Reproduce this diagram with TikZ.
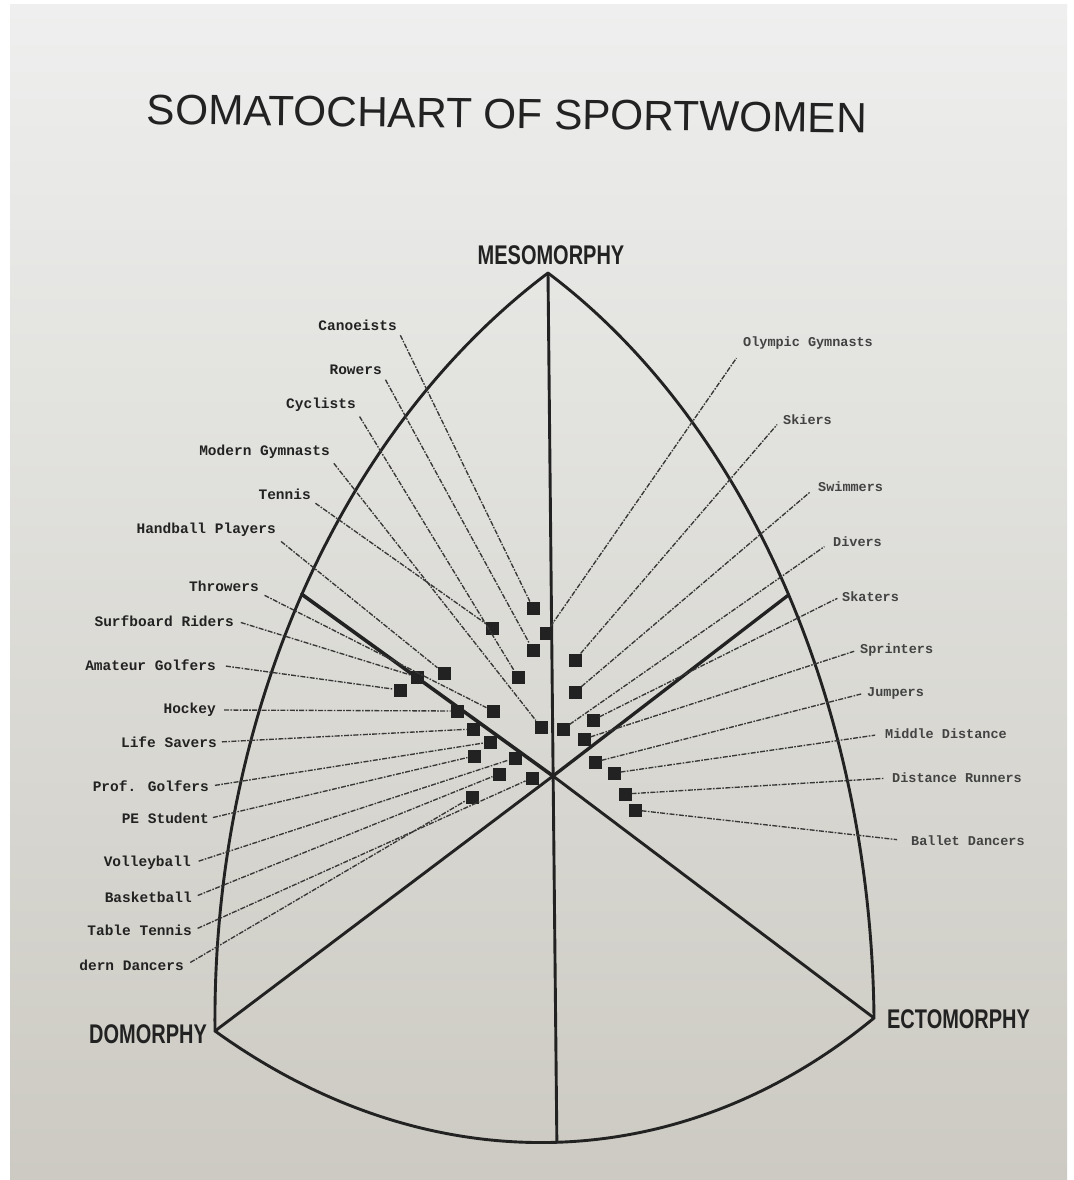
\documentclass[tikz,border=0pt]{standalone}
\usepackage{fontspec}
\usepackage{graphicx}
\setmainfont{Liberation Sans}
\newfontfamily\labfont{Liberation Mono}
\definecolor{paperTop}{RGB}{238,239,238}
\definecolor{paperBot}{RGB}{204,202,194}
\definecolor{ink}{RGB}{34,34,34}
\begin{document}
\begin{tikzpicture}[x=1pt,y=-1pt,
  axis/.style={line width=2.9pt, draw=ink, line cap=round, line join=round},
  conn/.style={line width=1.35pt, draw=ink!90, dash pattern=on 5pt off 1.4pt on 1.6pt off 1.4pt},
  sq/.style={fill=ink, minimum size=13pt, inner sep=0pt, outer sep=0pt},
  llab/.style={font=\labfont\bfseries\fontsize{14.5}{16}\selectfont, text=ink, inner sep=2pt, anchor=east},
  rlab/.style={font=\labfont\bfseries\fontsize{13.5}{15}\selectfont, text=ink!85, inner sep=2pt, anchor=west},
  pole/.style={font=\bfseries\fontsize{27}{30}\selectfont, text=ink, inner sep=0pt, xscale=0.74}
]
\useasboundingbox (0,0) rectangle (1073,1180);
% paper
\fill[white] (0,0) rectangle (1073,1180);
\shade[top color=paperTop, bottom color=paperBot] (10,5) rectangle (1067,1180);

% title and poles
\node[font=\fontsize{42.4}{48}\selectfont, text=ink, inner sep=0pt, rotate=-0.7] (title) at (507,114) {SOMATOCHART OF SPORTWOMEN};
\node[pole] (meso) at (551,255) {MESOMORPHY};
\node[pole, anchor=east] (endo) at (207,1034) {DOMORPHY};
\node[pole, anchor=west] (ecto) at (887,1019) {ECTOMORPHY};

% chart frame
\coordinate (T) at (548,273);
\coordinate (L) at (215,1031);
\coordinate (R) at (874,1018);
\coordinate (O) at (553,776);
\draw[axis] (T) .. controls (338.7,430.6) and (211.9,719.6) .. coordinate[pos=0.5] (ML) (L)
  .. controls (427.2,1184.2) and (678.4,1179.3) .. coordinate[pos=0.509] (MB) (R)
  .. controls (870.9,706.6) and (746.6,422.5) .. coordinate[pos=0.487] (MR) (T) -- cycle;
\draw[axis] (T) -- (MB);
\draw[axis] (L) -- (O);
\draw[axis] (R) -- (O);
\draw[axis, line width=3.6pt] (O) -- (ML);
\draw[axis, line width=3.3pt] (O) -- (MR);

% plotted groups
\node[sq] (s1) at (533,608) {};
\node[sq] (s2) at (492,628) {};
\node[sq] (s3) at (546,633) {};
\node[sq] (s4) at (533,650) {};
\node[sq] (s5) at (575,660) {};
\node[sq] (s6) at (444,673) {};
\node[sq] (s7) at (417,677) {};
\node[sq] (s8) at (518,677) {};
\node[sq] (s9) at (400,690) {};
\node[sq] (s10) at (575,692) {};
\node[sq] (s11) at (457,711) {};
\node[sq] (s12) at (493,711) {};
\node[sq] (s13) at (593,720) {};
\node[sq] (s14) at (541,727) {};
\node[sq] (s15) at (563,729) {};
\node[sq] (s16) at (473,729) {};
\node[sq] (s17) at (584,739) {};
\node[sq] (s18) at (490,742) {};
\node[sq] (s19) at (474,756) {};
\node[sq] (s20) at (515,758) {};
\node[sq] (s21) at (595,762) {};
\node[sq] (s22) at (499,774) {};
\node[sq] (s23) at (532,778) {};
\node[sq] (s24) at (614,773) {};
\node[sq] (s25) at (472,797) {};
\node[sq] (s26) at (625,794) {};
\node[sq] (s27) at (635,810) {};

% left labels
\node[llab] (lCan) at (399,325) {Canoeists};
\node[llab] (lRow) at (384,370) {Rowers};
\node[llab] (lCyc) at (358,405) {Cyclists};
\node[llab] (lMod) at (332,452) {Modern Gymnasts};
\node[llab] (lTen) at (313,494) {Tennis};
\node[llab] (lHan) at (278,530) {Handball Players};
\node[llab] (lThr) at (261,586) {Throwers};
\node[llab] (lSur) at (236,621) {Surfboard Riders};
\node[llab] (lAma) at (218,665) {Amateur Golfers};
\node[llab] (lHoc) at (218,710) {Hockey};
\node[llab] (lLif) at (219,742) {Life Savers};
\node[llab] (lPro) at (211,786) {Prof. Golfers};
\node[llab] (lPE) at (211,818) {PE Student};
\node[llab] (lVol) at (193,863) {Volleyball};
\node[llab] (lBas) at (194,897) {Basketball};
\node[llab] (lTab) at (194,930) {Table Tennis};
\node[llab] (lDan) at (186,965) {dern Dancers};

% right labels
\node[rlab] (rOly) at (741,343) {Olympic Gymnasts};
\node[rlab] (rSki) at (781,420) {Skiers};
\node[rlab] (rSwi) at (816,487) {Swimmers};
\node[rlab] (rDiv) at (831,542) {Divers};
\node[rlab] (rSka) at (840,597) {Skaters};
\node[rlab] (rSpr) at (858,650) {Sprinters};
\node[rlab] (rJum) at (865,693) {Jumpers};
\node[rlab] (rMid) at (883,734) {Middle Distance};
\node[rlab] (rDis) at (890,778) {Distance Runners};
\node[rlab] (rBal) at (909,841) {Ballet Dancers};

% connectors
\draw[conn, shorten <=3pt] (lCan.south east) -- (s1);
\draw[conn, shorten <=3pt] (lRow.south east) -- (s4);
\draw[conn, shorten <=3pt] (lCyc.south east) -- (s8);
\draw[conn, shorten <=3pt] (lMod.south east) -- (s14);
\draw[conn, shorten <=3pt] (lTen.south east) -- (s2);
\draw[conn, shorten <=4pt] (lHan.south east) -- (s6);
\draw[conn, shorten <=4pt] (lThr.south east) -- (s12);
\draw[conn, shorten <=5pt] (lSur.east) -- (s7);
\draw[conn, shorten <=8pt] (lAma.east) -- (s9);
\draw[conn, shorten <=6pt] (lHoc.east) -- (s11);
\draw[conn, shorten <=3pt] (lLif.east) -- (s16);
\draw[conn, shorten <=4pt] (lPro.east) -- (s18);
\draw[conn, shorten <=2pt] (lPE.east) -- (s19);
\draw[conn, shorten <=6pt] (lVol.east) -- (s20);
\draw[conn, shorten <=4pt] (lBas.east) -- (s22);
\draw[conn, shorten <=4pt] (lTab.east) -- (s23);
\draw[conn, shorten <=5pt] (lDan.east) -- (s25);
\draw[conn, shorten >=8pt] (s3) -- (rOly.south west);
\draw[conn, shorten >=6pt] (s5) -- (rSki.west);
\draw[conn, shorten >=8pt] (s10) -- (rSwi.west);
\draw[conn, shorten >=8pt] (s15) -- (rDiv.west);
\draw[conn, shorten >=3pt] (s13) -- (rSka.west);
\draw[conn, shorten >=4pt] (s17) -- (rSpr.west);
\draw[conn, shorten >=4pt] (s21) -- (rJum.west);
\draw[conn, shorten >=8pt] (s24) -- (rMid.west);
\draw[conn, shorten >=6pt] (s26) -- (rDis.west);
\draw[conn, shorten >=12pt] (s27) -- (rBal.west);
\end{tikzpicture}
\end{document}
